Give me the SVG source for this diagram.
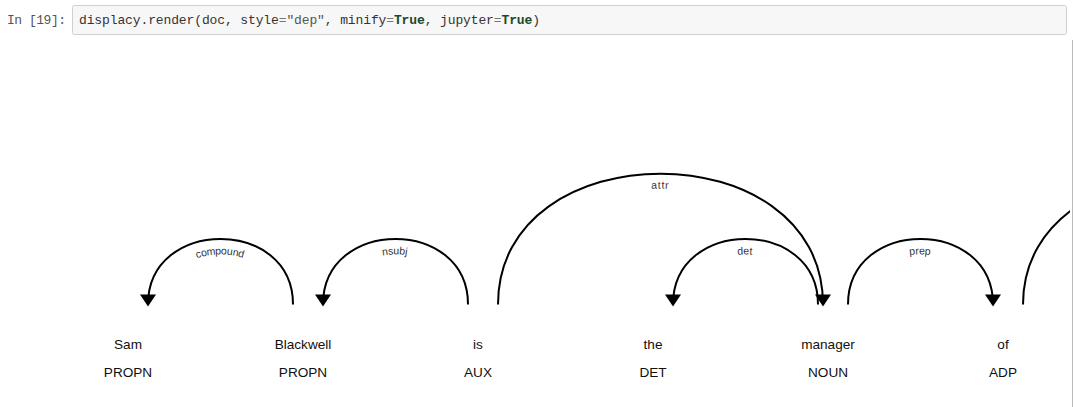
<svg xmlns="http://www.w3.org/2000/svg" xmlns:xlink="http://www.w3.org/1999/xlink" width="1074" height="407" viewBox="0 0 1074 407">
<style>
.prompt{font-family:"Liberation Mono",monospace;font-size:13px;fill:#555}
.code{font-family:"Liberation Mono",monospace;font-size:13px;fill:#333}
.op{fill:#777}
.kw{fill:#1d4a26;font-weight:bold}
.str{fill:#555}
.word{font-family:"Liberation Sans",Arial,sans-serif;font-size:13.6px;fill:#111;text-anchor:middle}
.arc{fill:none;stroke:#000;stroke-width:2px}
.head{fill:#000}
.lbl{font-family:"Liberation Sans",Arial,sans-serif;font-size:10.5px;letter-spacing:1px;fill:#333}
</style>
<defs>
<clipPath id="out"><rect x="0" y="40" width="1070" height="367"/></clipPath>
<path id="a-compound" d="M148,304.5 C148,217 293,217 293,304.5"/>
<path id="a-nsubj" d="M323,304.5 C323,217 468,217 468,304.5"/>
<path id="a-attr" d="M498,304.5 C498,130 823,130 823,304.5"/>
<path id="a-det" d="M673,304.5 C673,217 818,217 818,304.5"/>
<path id="a-prep" d="M848,304.5 C848,217 993,217 993,304.5"/>
<path id="a-pobj" d="M1023,304.5 C1023,130 1368,130 1368,304.5"/>
</defs>
<rect width="1074" height="407" fill="#fff"/>
<g id="input-cell">
<text class="prompt" x="7" y="24" textLength="59">In [19]:</text>
<rect x="72.5" y="5.5" width="994" height="29" rx="2" fill="#f7f7f7" stroke="#cfcfcf"/>
<text class="code" x="79" y="24" textLength="461">displacy.render(doc, style<tspan class="op">=</tspan><tspan class="str">"dep"</tspan>, minify<tspan class="op">=</tspan><tspan class="kw">True</tspan>, jupyter<tspan class="op">=</tspan><tspan class="kw">True</tspan>)</text>
</g>
<line x1="1072.5" y1="40" x2="1072.5" y2="407" stroke="#bbb" stroke-width="1"/>
<g id="connectors" clip-path="url(#out)">
<g id="c-compound"><use xlink:href="#a-compound" class="arc"/><text class="lbl" dy="15.5"><textPath xlink:href="#a-compound" startOffset="50%" text-anchor="middle">compound</textPath></text><path class="head" d="M148,306.5 L140,294.5 156,294.5 Z"/></g>
<g id="c-nsubj"><use xlink:href="#a-nsubj" class="arc"/><text class="lbl" dy="15.5"><textPath xlink:href="#a-nsubj" startOffset="50%" text-anchor="middle">nsubj</textPath></text><path class="head" d="M323,306.5 L315,294.5 331,294.5 Z"/></g>
<g id="c-attr"><use xlink:href="#a-attr" class="arc"/><text class="lbl" dy="15"><textPath xlink:href="#a-attr" startOffset="50%" text-anchor="middle">attr</textPath></text><path class="head" d="M823,306.5 L831,294.5 815,294.5 Z"/></g>
<g id="c-det"><use xlink:href="#a-det" class="arc"/><text class="lbl" dy="15.5"><textPath xlink:href="#a-det" startOffset="50%" text-anchor="middle">det</textPath></text><path class="head" d="M673,306.5 L665,294.5 681,294.5 Z"/></g>
<g id="c-prep"><use xlink:href="#a-prep" class="arc"/><text class="lbl" dy="15.5"><textPath xlink:href="#a-prep" startOffset="50%" text-anchor="middle">prep</textPath></text><path class="head" d="M993,306.5 L1001,294.5 985,294.5 Z"/></g>
<g id="c-pobj"><use xlink:href="#a-pobj" class="arc"/></g>
</g>
<g id="w-Sam"><text class="word" x="128" y="349">Sam</text><text class="word" x="128" y="377">PROPN</text></g>
<g id="w-Blackwell"><text class="word" x="303" y="349">Blackwell</text><text class="word" x="303" y="377">PROPN</text></g>
<g id="w-is"><text class="word" x="478" y="349">is</text><text class="word" x="478" y="377">AUX</text></g>
<g id="w-the"><text class="word" x="653" y="349">the</text><text class="word" x="653" y="377">DET</text></g>
<g id="w-manager"><text class="word" x="828" y="349">manager</text><text class="word" x="828" y="377">NOUN</text></g>
<g id="w-of"><text class="word" x="1003" y="349">of</text><text class="word" x="1003" y="377">ADP</text></g>
</svg>
